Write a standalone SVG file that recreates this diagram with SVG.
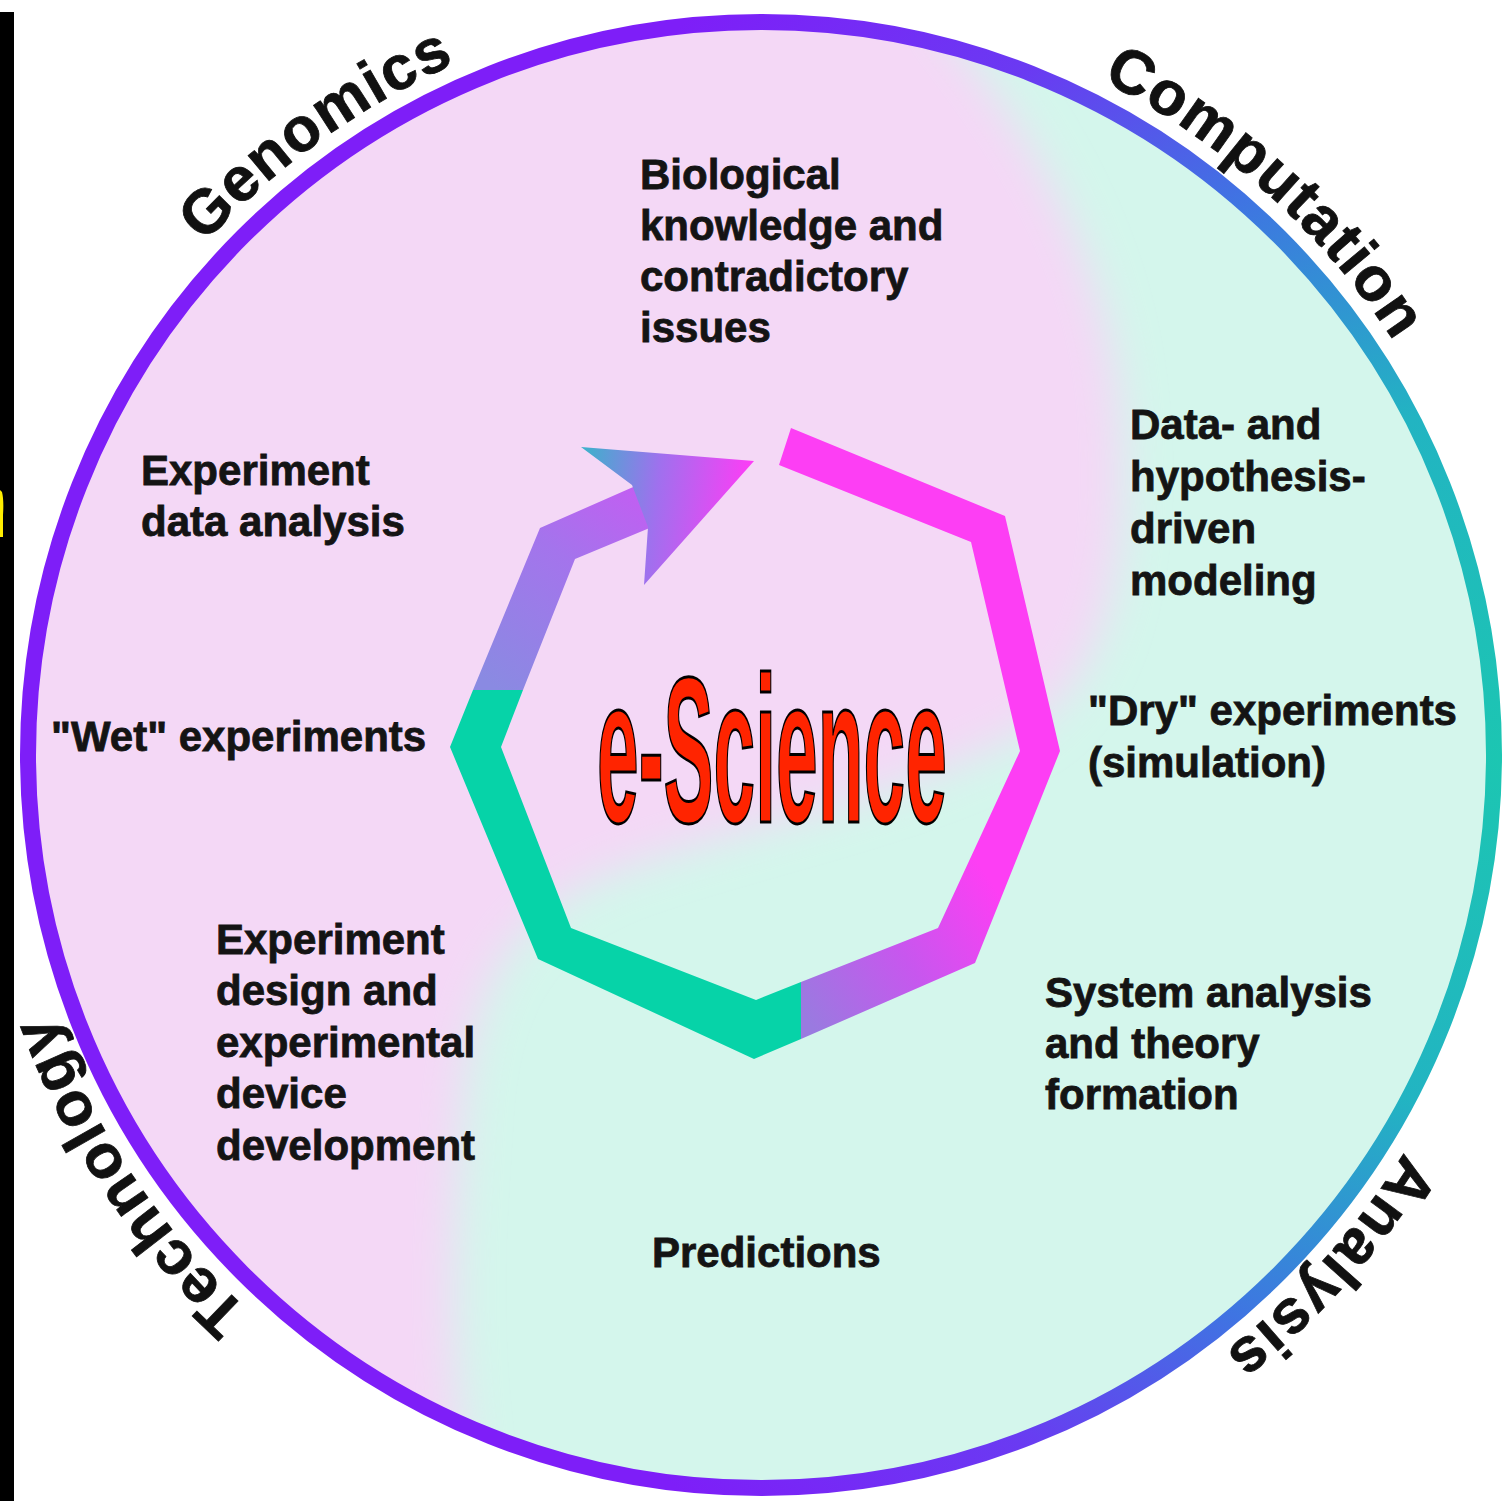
<svg xmlns="http://www.w3.org/2000/svg" width="1503" height="1501" viewBox="0 0 1503 1501">
<defs>
<style>
.lbl{font-family:"Liberation Sans",Arial,sans-serif;font-weight:bold;font-size:42px;fill:#141414;stroke:#141414;stroke-width:0.8px}
.arc{font-family:"Liberation Sans",Arial,sans-serif;font-weight:bold;font-size:62px;fill:#111;stroke:#111;stroke-width:0.8px}
.title{font-family:"Liberation Sans",Arial,sans-serif;font-weight:bold;font-size:207px;fill:#ff2400;stroke:#000;stroke-width:2.2px;vector-effect:non-scaling-stroke}
</style>
<radialGradient id="ringGrad" gradientUnits="userSpaceOnUse" cx="1500" cy="760" r="1100">
<stop offset="0" stop-color="#1cc6b2"/>
<stop offset="0.32" stop-color="#22b4c2"/>
<stop offset="0.56" stop-color="#3f74e2"/>
<stop offset="0.76" stop-color="#6a3af2"/>
<stop offset="1" stop-color="#7e1ef8"/>
</radialGradient>
<clipPath id="disc"><circle cx="761" cy="755" r="735"/></clipPath>
<filter id="soft" x="-20%" y="-20%" width="140%" height="140%"><feGaussianBlur stdDeviation="22"/></filter>
<linearGradient id="pinkSeg" gradientUnits="userSpaceOnUse" x1="990" y1="880" x2="801" y2="1010">
<stop offset="0" stop-color="#fd3ef4"/>
<stop offset="0.5" stop-color="#c757ee"/>
<stop offset="1" stop-color="#9a7ae0"/>
</linearGradient>
<linearGradient id="shaftGrad" gradientUnits="userSpaceOnUse" x1="500" y1="690" x2="640" y2="490">
<stop offset="0" stop-color="#8a8ae2"/>
<stop offset="0.6" stop-color="#a474ec"/>
<stop offset="1" stop-color="#c25ef2"/>
</linearGradient>
<linearGradient id="headGrad" gradientUnits="userSpaceOnUse" x1="585" y1="450" x2="754" y2="470">
<stop offset="0" stop-color="#3fb0cc"/>
<stop offset="0.45" stop-color="#a070ee"/>
<stop offset="1" stop-color="#ff3cf6"/>
</linearGradient>
<path id="arcPath" d="M 5,755 A 756 756 0 1 1 1517,755 A 756 756 0 1 1 5,755"/>
</defs>

<rect width="1503" height="1501" fill="#ffffff"/>
<rect x="0" y="12" width="14" height="1489" fill="#000"/>
<path d="M0,490 L2,492 Q4,500 3,515 L3,537 L0,537 Z" fill="#ffee00"/>

<g id="background" clip-path="url(#disc)">
<rect x="0" y="0" width="1503" height="1501" fill="#d4f6ec"/>
<path filter="url(#soft)" fill="#f4d8f6" d="M -100,-100 L 930,-100 L 940,20 C 1020,120 1110,250 1120,420 C 1128,560 1110,660 1040,720 C 940,790 760,820 620,870 C 500,915 470,1000 462,1120 C 455,1250 440,1360 490,1600 L -100,1600 Z"/>
</g>

<g id="ring">
<circle cx="761" cy="755" r="733" fill="none" stroke="url(#ringGrad)" stroke-width="16"/>
</g>

<g id="cycle">
<polygon id="seg-pink" fill="url(#pinkSeg)" points="791,428 1005,516 1060,751 975,963 801,1039 801,982 938,928 1020,751 971,542 779,465"/>
<polygon id="seg-teal" fill="#06d3a8" points="801,1039 754,1059 538,959 450,747 473,690 523,690 501,747 571,928 756,1000 801,982"/>
<polygon id="seg-shaft" fill="url(#shaftGrad)" points="473,690 540,528 640,484 652,527 575,559 523,690"/>
<polygon id="arrowhead" fill="url(#headGrad)" points="581,447 754,461 644,585 648,527 632,485"/>
</g>

<g id="arc-labels">
<text class="arc"><textPath href="#arcPath" startOffset="562" textLength="310" lengthAdjust="spacing">Genomics</textPath></text>
<text class="arc"><textPath href="#arcPath" startOffset="1541" textLength="396" lengthAdjust="spacing">Computation</textPath></text>
<text class="arc"><textPath href="#arcPath" startOffset="2793" textLength="270" lengthAdjust="spacing">Analysis</textPath></text>
<text class="arc"><textPath href="#arcPath" startOffset="4125" textLength="360" lengthAdjust="spacing">Technology</textPath></text>
</g>

<g id="node-bio">
<text class="lbl" x="640" y="189">Biological</text>
<text class="lbl" x="640" y="240">knowledge and</text>
<text class="lbl" x="640" y="291">contradictory</text>
<text class="lbl" x="640" y="342">issues</text>
</g>
<g id="node-model">
<text class="lbl" x="1130" y="439">Data- and</text>
<text class="lbl" x="1130" y="491">hypothesis-</text>
<text class="lbl" x="1130" y="543">driven</text>
<text class="lbl" x="1130" y="595">modeling</text>
</g>
<g id="node-dry">
<text class="lbl" x="1088" y="725">"Dry" experiments</text>
<text class="lbl" x="1088" y="777">(simulation)</text>
</g>
<g id="node-system">
<text class="lbl" x="1045" y="1007">System analysis</text>
<text class="lbl" x="1045" y="1058">and theory</text>
<text class="lbl" x="1045" y="1109">formation</text>
</g>
<g id="node-pred">
<text class="lbl" x="652" y="1267">Predictions</text>
</g>
<g id="node-design">
<text class="lbl" x="216" y="954">Experiment</text>
<text class="lbl" x="216" y="1005">design and</text>
<text class="lbl" x="216" y="1057">experimental</text>
<text class="lbl" x="216" y="1108">device</text>
<text class="lbl" x="216" y="1160">development</text>
</g>
<g id="node-wet">
<text class="lbl" x="51" y="751">"Wet" experiments</text>
</g>
<g id="node-analysis">
<text class="lbl" x="141" y="485">Experiment</text>
<text class="lbl" x="141" y="536">data analysis</text>
</g>

<g id="title" transform="translate(597,822) scale(0.362,1)">
<text class="title" x="0" y="0">e-Science</text>
</g>
</svg>
